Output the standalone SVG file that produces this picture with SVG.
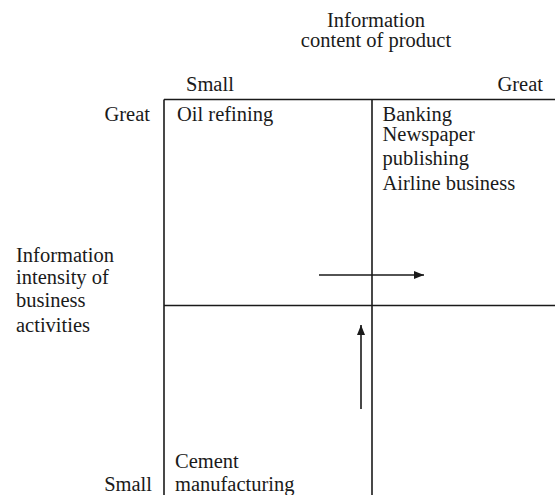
<svg xmlns="http://www.w3.org/2000/svg" width="555" height="495" viewBox="0 0 555 495">
<style>
.ln{stroke:#1a1a1a;stroke-width:1.6;fill:none}
.ar{stroke:#1a1a1a;stroke-width:1.6;fill:none}
</style>
<defs>
<marker id="ah" viewBox="0 0 10 10" refX="10" refY="5" markerWidth="10" markerHeight="10" markerUnits="userSpaceOnUse" orient="auto">
<path d="M0,1 L10,5 L0,9 Z" fill="#1a1a1a"/>
</marker>
</defs>
<rect width="555" height="495" fill="#ffffff"/>
<g id="grid">
<line class="ln" x1="164" y1="99.5" x2="555" y2="99.5"/>
<line class="ln" x1="164" y1="99.5" x2="164" y2="495"/>
<line class="ln" x1="372" y1="99.5" x2="372" y2="495"/>
<line class="ln" x1="164" y1="305.5" x2="555" y2="305.5"/>
</g>
<g id="axis-top" fill="#1a1a1a">
<text x="376" y="27" text-anchor="middle" font-family="Liberation Serif" font-size="20.5">Information</text>
<text x="376" y="46.5" text-anchor="middle" font-family="Liberation Serif" font-size="20.5">content of product</text>
<text x="186" y="91" font-family="Liberation Serif" font-size="20.5">Small</text>
<text x="543" y="91" text-anchor="end" font-family="Liberation Serif" font-size="20.5">Great</text>
</g>
<g id="axis-left" fill="#1a1a1a">
<text x="150" y="121" text-anchor="end" font-family="Liberation Serif" font-size="20.5">Great</text>
<text x="16" y="262" font-family="Liberation Serif" font-size="20.5">Information</text>
<text x="16" y="284" font-family="Liberation Serif" font-size="20.5">intensity of</text>
<text x="16" y="307" font-family="Liberation Serif" font-size="20.5">business</text>
<text x="16" y="332" font-family="Liberation Serif" font-size="20.5">activities</text>
<text x="152" y="491" text-anchor="end" font-family="Liberation Serif" font-size="20.5">Small</text>
</g>
<g id="q-top-left" fill="#1a1a1a">
<text x="177" y="121" font-family="Liberation Serif" font-size="20.5">Oil refining</text>
</g>
<g id="q-top-right" fill="#1a1a1a">
<text x="382.5" y="120.5" font-family="Liberation Serif" font-size="20.5">Banking</text>
<text x="382.5" y="141" font-family="Liberation Serif" font-size="20.5">Newspaper</text>
<text x="382.5" y="165" font-family="Liberation Serif" font-size="20.5">publishing</text>
<text x="382.5" y="190" font-family="Liberation Serif" font-size="20.5">Airline business</text>
</g>
<g id="q-bottom-left" fill="#1a1a1a">
<text x="175" y="468" font-family="Liberation Serif" font-size="20.5">Cement</text>
<text x="175" y="491" font-family="Liberation Serif" font-size="20.5">manufacturing</text>
</g>
<g id="connectors">
<line class="ar" x1="319" y1="275" x2="424" y2="275" marker-end="url(#ah)"/>
<line class="ar" x1="361" y1="409" x2="361" y2="325" marker-end="url(#ah)"/>
</g>
</svg>
